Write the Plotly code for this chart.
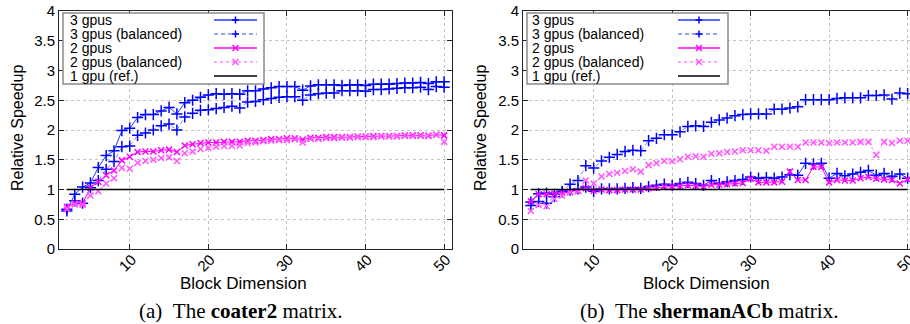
import plotly.graph_objects as go

# ---------------- data ----------------
block_dim = list(range(2, 51))
series_names = ["3 gpus", "3 gpus (balanced)", "2 gpus", "2 gpus (balanced)", "1 gpu (ref.)"]
y_ticks = [0, 0.5, 1, 1.5, 2, 2.5, 3, 3.5, 4]
y_tick_labels = ["0", "0.5", "1", "1.5", "2", "2.5", "3", "3.5", "4"]
x_ticks = [10, 20, 30, 40, 50]
captions = ["(a)\u00a0\u00a0The <b>coater2</b> matrix.", "(b)\u00a0\u00a0The <b>shermanACb</b> matrix."]
x_title = "Block Dimension"
y_title = "Relative Speedup"

coater_3gpu = [0.64, 0.92, 1.04, 1.11, 1.37, 1.57, 1.65, 1.99, 2.03,
               2.21, 2.26, 2.26, 2.32, 2.38, 2.27, 2.46, 2.50, 2.55, 2.59,
               2.61, 2.60, 2.61, 2.60, 2.66, 2.66, 2.69, 2.71, 2.73, 2.73,
               2.73, 2.67, 2.74, 2.76, 2.76, 2.76, 2.75, 2.76, 2.76, 2.75,
               2.77, 2.77, 2.77, 2.78, 2.79, 2.79, 2.80, 2.78, 2.81, 2.81]
coater_3gpu_bal = [0.67, 0.81, 0.77, 1.03, 1.15, 1.34, 1.47, 1.72, 1.73,
                   1.91, 1.95, 2.00, 2.07, 2.10, 2.00, 2.22, 2.28, 2.33, 2.34,
                   2.36, 2.38, 2.40, 2.37, 2.47, 2.48, 2.51, 2.53, 2.55, 2.56,
                   2.56, 2.50, 2.59, 2.61, 2.62, 2.62, 2.66, 2.66, 2.66, 2.65,
                   2.68, 2.68, 2.69, 2.70, 2.71, 2.71, 2.72, 2.68, 2.73, 2.72]
coater_2gpu = [0.71, 0.77, 0.77, 1.03, 1.13, 1.24, 1.32, 1.49, 1.55,
               1.63, 1.64, 1.64, 1.66, 1.67, 1.63, 1.74, 1.76, 1.78, 1.79,
               1.79, 1.80, 1.80, 1.80, 1.82, 1.82, 1.83, 1.85, 1.85, 1.86,
               1.86, 1.84, 1.87, 1.87, 1.88, 1.88, 1.88, 1.88, 1.89, 1.89,
               1.90, 1.90, 1.90, 1.90, 1.91, 1.91, 1.91, 1.90, 1.92, 1.91]
coater_2gpu_bal = [0.67, 0.75, 0.74, 0.90, 0.97, 1.10, 1.19, 1.36, 1.35,
                   1.45, 1.48, 1.50, 1.53, 1.54, 1.48, 1.61, 1.64, 1.68, 1.70,
                   1.72, 1.73, 1.73, 1.74, 1.78, 1.79, 1.81, 1.82, 1.83, 1.83,
                   1.84, 1.79, 1.85, 1.85, 1.86, 1.86, 1.87, 1.87, 1.88, 1.88,
                   1.88, 1.89, 1.89, 1.89, 1.90, 1.90, 1.90, 1.91, 1.92, 1.80]

sherman_3gpu = [0.79, 0.93, 0.94, 0.92, 0.96, 0.99, 1.01, 1.04, 0.97,
                1.01, 1.01, 1.01, 1.02, 1.03, 1.02, 1.05, 1.07, 1.09, 1.07,
                1.10, 1.12, 1.10, 1.07, 1.15, 1.10, 1.13, 1.15, 1.17, 1.21,
                1.19, 1.20, 1.19, 1.21, 1.25, 1.24, 1.44, 1.43, 1.44, 1.19,
                1.27, 1.23, 1.26, 1.29, 1.32, 1.24, 1.27, 1.22, 1.26, 1.19]
sherman_3gpu_bal = [0.73, 0.80, 0.77, 0.88, 0.97, 1.09, 1.15, 1.40, 1.36,
                    1.48, 1.54, 1.59, 1.64, 1.66, 1.65, 1.82, 1.86, 1.92, 1.92,
                    1.97, 2.06, 2.07, 2.06, 2.13, 2.17, 2.20, 2.24, 2.26, 2.27,
                    2.27, 2.27, 2.35, 2.35, 2.37, 2.39, 2.51, 2.51, 2.51, 2.51,
                    2.53, 2.54, 2.54, 2.54, 2.58, 2.58, 2.59, 2.52, 2.62, 2.61]
sherman_2gpu = [0.80, 0.92, 0.92, 0.93, 0.95, 0.96, 0.98, 1.02, 0.98,
                1.00, 0.99, 0.99, 1.00, 1.00, 1.00, 1.02, 1.03, 1.05, 1.05,
                1.06, 1.07, 1.06, 1.05, 1.08, 1.08, 1.09, 1.10, 1.11, 1.18,
                1.12, 1.12, 1.12, 1.13, 1.30, 1.16, 1.16, 1.38, 1.38, 1.12,
                1.16, 1.15, 1.15, 1.19, 1.21, 1.18, 1.17, 1.16, 1.10, 1.17]
sherman_2gpu_bal = [0.64, 0.74, 0.72, 0.84, 0.90, 0.95, 0.97, 1.15, 1.10,
                    1.22, 1.26, 1.28, 1.31, 1.34, 1.30, 1.41, 1.44, 1.48, 1.48,
                    1.51, 1.55, 1.56, 1.55, 1.60, 1.61, 1.63, 1.64, 1.66, 1.66,
                    1.66, 1.65, 1.72, 1.72, 1.72, 1.72, 1.79, 1.79, 1.79, 1.78,
                    1.79, 1.79, 1.79, 1.80, 1.80, 1.58, 1.80, 1.78, 1.82, 1.82]
reference = [1.0] * len(block_dim)

panels = [
    [coater_3gpu, coater_3gpu_bal, coater_2gpu, coater_2gpu_bal, reference],
    [sherman_3gpu, sherman_3gpu_bal, sherman_2gpu, sherman_2gpu_bal, reference],
]

# ---------------- styles ----------------
W, H = 910, 324
ML, MR, MT, MB = 59, 0, 11, 75
PW, PH = W - ML - MR, H - MT - MB
SANS = "Liberation Sans, Arial, sans-serif"
SERIF = "Liberation Serif, Times New Roman, serif"

BLUE = "#0000ff"
MAG = "#ff00ff"
styles = [
    dict(line=dict(color="#2040ff", width=1), marker=dict(symbol="cross-thin", size=8, line=dict(color=BLUE, width=1.5))),
    dict(line=dict(color="#6f8cff", width=1, dash="4px,3px"), marker=dict(symbol="cross-thin", size=8, line=dict(color=BLUE, width=1.5))),
    dict(line=dict(color=MAG, width=1), marker=dict(symbol="x-thin", size=6, line=dict(color=MAG, width=1.5))),
    dict(line=dict(color="#ff88ff", width=1, dash="3px,3px"), marker=dict(symbol="x-thin", size=6, line=dict(color="#ff55ff", width=1.5))),
    dict(line=dict(color="black", width=1.3), marker=None),
]


def px2x(px):
    return (px - ML) / PW


def py2y(py):
    return (MT + PH - py) / PH


fig = go.Figure()
axes_ids = [("x", "y"), ("x2", "y2")]
for p, data in enumerate(panels):
    xr, yr = axes_ids[p]
    for i, (name, vals) in enumerate(zip(series_names, data)):
        st = styles[i]
        kw = dict(x=block_dim, y=vals, name=name, xaxis=xr, yaxis=yr, showlegend=False,
                  line=st["line"], hoverinfo="skip")
        if st["marker"] is None:
            kw["mode"] = "lines"
        else:
            kw["mode"] = "lines+markers"
            kw["marker"] = st["marker"]
        fig.add_trace(go.Scatter(**kw))

axis_common = dict(
    showline=True, linecolor="#222222", linewidth=1,
    ticks="inside", ticklen=5, tickcolor="#222222", tickwidth=1,
    showgrid=True, gridcolor="#c4c4c4", griddash="dot", gridwidth=1,
    zeroline=False, automargin=False,
    tickfont=dict(family=SANS, size=15, color="black"),
)
x_extra = dict(tickangle=-45, ticklabelstandoff=-5, ticklabelshift=2, ticklabeloverflow="allow")

dom_a = [0, (452 - ML) / PW]
dom_b = [(523 - ML) / PW, 1]

fig.update_layout(
    width=W, height=H,
    margin=dict(l=ML, r=MR, t=MT, b=MB, pad=0),
    paper_bgcolor="white", plot_bgcolor="white",
    xaxis=dict(domain=dom_a, range=[1, 51], tickmode="array", tickvals=x_ticks,
               mirror="allticks", anchor="y", **x_extra, **axis_common),
    yaxis=dict(domain=[0, 1], range=[0, 4], tickmode="array", tickvals=y_ticks, ticktext=y_tick_labels,
               mirror="allticks", anchor="x", **axis_common),
    xaxis2=dict(domain=dom_b, range=[1, 50.3], tickmode="array", tickvals=x_ticks,
                mirror="allticks", anchor="y2", **x_extra, **axis_common),
    yaxis2=dict(domain=[0, 1], range=[0, 4], tickmode="array", tickvals=y_ticks, ticktext=y_tick_labels,
                mirror=False, anchor="x2", **axis_common),
)

annotations = []
shapes = []

for cx in (17, 480):
    annotations.append(dict(text=y_title, x=px2x(cx), y=py2y(128), xref="paper", yref="paper",
                            textangle=-90, showarrow=False, xanchor="center", yanchor="middle",
                            font=dict(family=SANS, size=16, color="black")))
for cx in (243.5, 706.5):
    annotations.append(dict(text=x_title, x=px2x(cx), y=py2y(283), xref="paper", yref="paper",
                            showarrow=False, xanchor="center", yanchor="middle",
                            font=dict(family=SANS, size=17, color="black")))
for cx, cap in zip((241, 709), captions):
    annotations.append(dict(text=cap, x=px2x(cx), y=py2y(311), xref="paper", yref="paper",
                            showarrow=False, xanchor="center", yanchor="middle",
                            font=dict(family=SERIF, size=21, color="black")))

row_y = [20, 34, 48, 62, 76]
for box_x0, box_x1, text_x, s0, s1 in ((63, 264, 67.5, 214, 257), (527, 728, 530, 678, 720)):
    shapes.append(dict(type="rect", xref="paper", yref="paper",
                       x0=px2x(box_x0), x1=px2x(box_x1), y0=py2y(13), y1=py2y(84),
                       line=dict(color="#8a8a8a", width=1.5), fillcolor="white", layer="above"))
    for i, name in enumerate(series_names):
        ry = row_y[i]
        annotations.append(dict(text=name, x=px2x(text_x), y=py2y(ry), xref="paper", yref="paper",
                                showarrow=False, xanchor="left", yanchor="middle",
                                font=dict(family=SANS, size=14, color="black")))
        st = styles[i]
        ln = st["line"]
        shapes.append(dict(type="line", xref="paper", yref="paper", x0=px2x(s0), x1=px2x(s1),
                           y0=py2y(ry), y1=py2y(ry), layer="above",
                           line=dict(color=ln["color"], width=1.3 if i != 4 else 1.5,
                                     dash=ln.get("dash", "solid"))))
        if st["marker"] is not None:
            mc = st["marker"]["line"]["color"]
            cxm = (s0 + s1) / 2
            if st["marker"]["symbol"] == "cross-thin":
                segs = [((cxm - 3.5, ry), (cxm + 3.5, ry)), ((cxm, ry - 3.5), (cxm, ry + 3.5))]
            else:
                segs = [((cxm - 3, ry - 3), (cxm + 3, ry + 3)), ((cxm - 3, ry + 3), (cxm + 3, ry - 3))]
            for (a, b) in segs:
                shapes.append(dict(type="line", xref="paper", yref="paper",
                                   x0=px2x(a[0]), y0=py2y(a[1]), x1=px2x(b[0]), y1=py2y(b[1]),
                                   layer="above", line=dict(color=mc, width=1.5)))

fig.update_layout(annotations=annotations, shapes=shapes)
fig.write_html("out.html", config={"displayModeBar": False},
               post_script="document.body.style.margin='0px';document.body.style.overflow='hidden';")
